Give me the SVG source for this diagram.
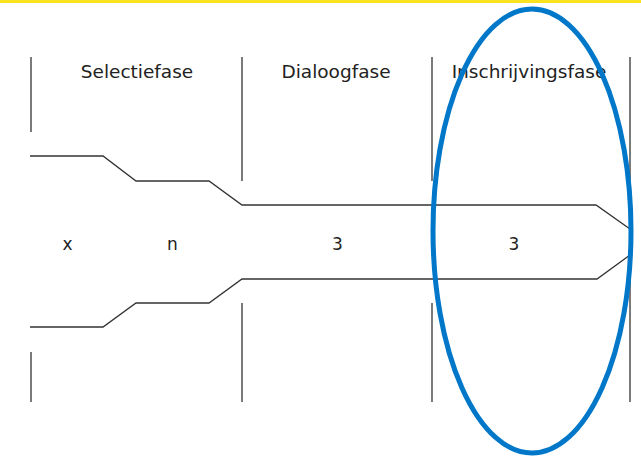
<svg xmlns="http://www.w3.org/2000/svg" width="641" height="459" viewBox="0 0 641 459">
<style>
.ln{fill:none;stroke:#333;stroke-width:1.3}
.t{font-family:"DejaVu Sans",Verdana,sans-serif;font-size:18.5px;fill:#222;text-anchor:middle}
.l{font-family:"DejaVu Sans",Verdana,sans-serif;font-size:17px;fill:#222;text-anchor:middle}
</style>
<rect x="0" y="0" width="641" height="459" fill="#fff"/>
<rect x="0" y="0" width="641" height="3" fill="#FAE31E"/>
<g id="dividers" class="ln">
<line x1="31" y1="57" x2="31" y2="132"/>
<line x1="242" y1="57" x2="242" y2="181"/>
<line x1="432" y1="57" x2="432" y2="181"/>
<line x1="630" y1="57" x2="630" y2="402"/>
<line x1="31" y1="352" x2="31" y2="402"/>
<line x1="242" y1="303" x2="242" y2="402"/>
<line x1="432" y1="303" x2="432" y2="402"/>
</g>
<g id="funnel" class="ln">
<polyline points="30,156 103,156 136,181 209,181 242,205 596,205 630,229"/>
<polyline points="30,327 103,327 136,303 209,303 242,279 597,279 630,255"/>
</g>
<g id="phase-selectie"><text class="t" x="137" y="78">Selectiefase</text></g>
<g id="phase-dialoog"><text class="t" x="336" y="78">Dialoogfase</text></g>
<g id="phase-inschrijving"><text class="t" x="529" y="78">Inschrijvingsfase</text></g>
<g id="counts">
<text class="l" x="67.5" y="250">x</text>
<text class="l" x="172.5" y="250">n</text>
<text class="l" x="337.5" y="250">3</text>
<text class="l" x="514" y="250">3</text>
</g>
<g id="highlight"><ellipse cx="532" cy="231" rx="99" ry="222" fill="none" stroke="#0077C8" stroke-width="5"/></g>
</svg>
